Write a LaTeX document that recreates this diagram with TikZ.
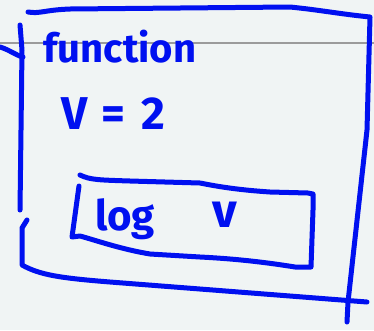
\documentclass[tikz,border=0pt]{standalone}
\usepackage{fontspec}
\setmainfont{Fira Sans}
\definecolor{inkblue}{RGB}{0,16,240}
\definecolor{bgc}{RGB}{240,244,244}
\definecolor{rulegray}{RGB}{155,155,155}
\begin{document}
\begin{tikzpicture}[x=1pt,y=-1pt,
  ink/.style={draw=inkblue,line width=5pt,line cap=round,line join=round},
  hand/.style={text=inkblue,font=\bfseries\fontsize{40}{40}\selectfont,inner sep=0pt}]
\fill[bgc] (0,0) rectangle (374,330);
\useasboundingbox (0,0) rectangle (374,330);
\draw[rulegray,line width=1.3pt] (0,43) -- (374,43);
% outer box
\draw[ink] (28,12) .. controls (40,14) and (44,10) .. (70,9) -- (290,7) .. controls (320,10) and (340,14) .. (370,17) -- (367,130) -- (348,302) -- (347,322);
\draw[ink] (20,25) -- (22,50) -- (20,210);
\draw[ink] (27,220) -- (22,228) -- (22,265) .. controls (40,275) and (60,278) .. (110,282) -- (367,302);
\draw[ink] (0,47) .. controls (10,50) and (15,55) .. (23,57);
% inner box
\draw[ink] (80,175) .. controls (90,180) and (100,180) .. (130,181) -- (200,183) .. controls (220,187) and (240,190) .. (270,192) -- (308,193) -- (313,194) -- (313,210) -- (311,267) -- (295,267) .. controls (270,263) and (240,259) .. (200,257) -- (150,254) .. controls (120,249) and (95,240) .. (80,236) -- (72,237) -- (79,186);
% text
\node[hand,font=\bfseries\fontsize{40}{40}\selectfont] (fn) at (120,47) {function};
\node[hand,font=\bfseries\fontsize{46}{46}\selectfont] (v2) at (113,114) {V\hspace{0.3em}=\hspace{0.35em}2};
\node[hand,font=\bfseries\fontsize{42}{42}\selectfont] (lg) at (125,219) {log};
\node[hand,font=\bfseries\fontsize{48}{48}\selectfont] (vv) at (225,215) {v};
\end{tikzpicture}
\end{document}
